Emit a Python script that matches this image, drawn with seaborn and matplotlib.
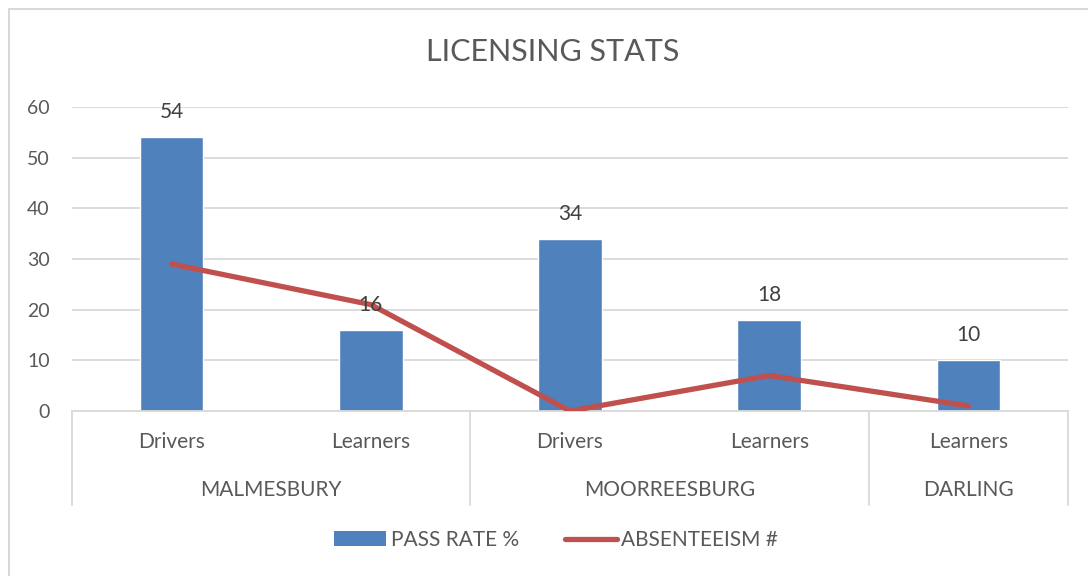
import numpy as np
import pandas as pd
import matplotlib
matplotlib.use("Agg")
import matplotlib.pyplot as plt
from matplotlib.lines import Line2D
from matplotlib.patches import Patch, Rectangle
import seaborn as sns

# Chart data
towns = ["MALMESBURY", "MALMESBURY", "MOORREESBURG", "MOORREESBURG", "DARLING"]
licence_types = ["Drivers", "Learners", "Drivers", "Learners", "Learners"]
pass_rate = [54, 16, 34, 18, 10]
absenteeism = [29, 21, 0, 7, 1]
y_ticks = [0, 10, 20, 30, 40, 50, 60]

BAR_BLUE = "#4F81BD"
LINE_RED = "#C0504D"
TEXT_GREY = "#595959"
GRID_GREY = "#D9D9D9"
FS = 15

sns.set_theme(style="white")
plt.rcParams["font.family"] = ["Lato", "DejaVu Sans"]

df = pd.DataFrame({
    "slot": [f"{t}|{l}|{i}" for i, (t, l) in enumerate(zip(towns, licence_types))],
    "town": towns,
    "type": licence_types,
    "pass_rate": pass_rate,
    "absenteeism": absenteeism,
})

W, H = 1088, 576
fig = plt.figure(figsize=(W / 100, H / 100), dpi=100)
left, right, bottom, top = 72, 1068, 411, 107
ax = fig.add_axes([left / W, 1 - bottom / H, (right - left) / W, (bottom - top) / H])

sns.barplot(data=df, x="slot", y="pass_rate", color=BAR_BLUE, width=0.32,
            saturation=1, ax=ax, zorder=2)
sns.lineplot(x=np.arange(len(df)), y=df["absenteeism"], color=LINE_RED,
             linewidth=3.8, ax=ax, zorder=3, solid_capstyle="round")

ax.set_xlim(-0.5, len(df) - 0.5)
ax.set_ylim(0, 60)
ax.set_yticks(y_ticks)
ax.set_yticklabels([str(v) for v in y_ticks], fontsize=FS - 1, color=TEXT_GREY)
ax.tick_params(axis="y", length=0, pad=16)
ax.set_xticks([])
ax.set_xlabel("")
ax.set_ylabel("")
ax.grid(axis="y", color=GRID_GREY, linewidth=1.3, zorder=0)
ax.set_axisbelow(True)
for side in ["left", "right", "top"]:
    ax.spines[side].set_visible(False)
ax.spines["bottom"].set_color(GRID_GREY)
ax.spines["bottom"].set_linewidth(1.3)

# Value labels above bars
for i, v in enumerate(pass_rate):
    ax.annotate(str(v), (i, v), xytext=(0, 18), textcoords="offset points",
                ha="center", va="center", fontsize=FS, color="#404040")

# Two-level category axis
tr = ax.get_xaxis_transform()
lvl1_y = -(442 - bottom) / (bottom - top)
lvl2_y = -(490 - bottom) / (bottom - top)
sep_y = -(505 - bottom) / (bottom - top)
for i, lab in enumerate(licence_types):
    ax.text(i, lvl1_y, lab, transform=tr, ha="center", va="center",
            fontsize=FS, color=TEXT_GREY, clip_on=False)

groups = []
for i, t in enumerate(towns):
    if groups and groups[-1][0] == t:
        groups[-1][2] = i
    else:
        groups.append([t, i, i])
bounds = [-0.5] + [g[2] + 0.5 for g in groups]
for b in bounds:
    ax.add_line(Line2D([b, b], [0, sep_y], transform=tr, color=GRID_GREY,
                       linewidth=1.3, clip_on=False))
for name, a, b in groups:
    ax.text((a + b) / 2, lvl2_y, name, transform=tr, ha="center", va="center",
            fontsize=FS, color=TEXT_GREY, clip_on=False)

fig.text(0.508, 1 - 52 / H, "LICENSING STATS", ha="center", va="center",
         fontsize=22, color=TEXT_GREY)

handles = [Patch(facecolor=BAR_BLUE, edgecolor="none", label="PASS RATE %"),
           Line2D([0], [0], color=LINE_RED, linewidth=3.8, label="ABSENTEEISM #",
                  solid_capstyle="round")]
fig.legend(handles=handles, loc="center", bbox_to_anchor=(0.511, 1 - 540 / H),
           ncol=2, frameon=False, fontsize=FS, labelcolor=TEXT_GREY,
           handlelength=2.5, handleheight=0.7, handletextpad=0.2,
           columnspacing=2.2)

# Outer chart border
fig.patches.append(Rectangle((9 / W, -0.1), 1.2, 1 - 9 / H + 0.1,
                             transform=fig.transFigure, fill=False,
                             edgecolor=GRID_GREY, linewidth=1.5))

fig.savefig("out.png", dpi=100)
